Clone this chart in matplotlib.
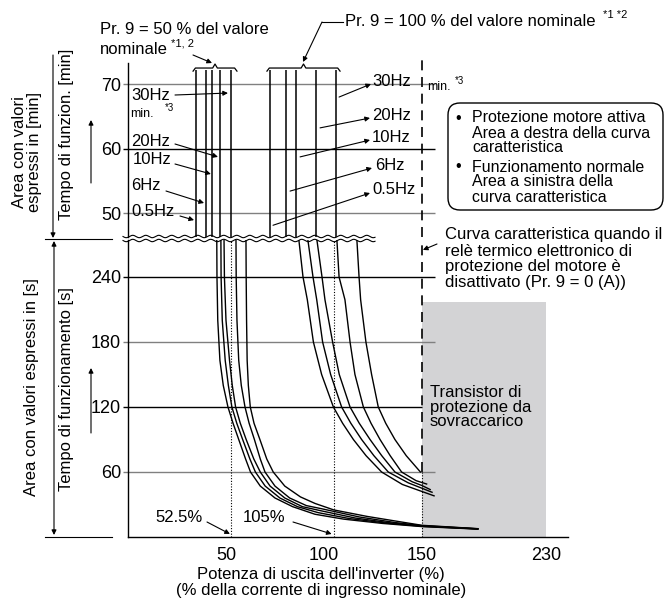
import numpy as np
import matplotlib
matplotlib.use('Agg')
import matplotlib.pyplot as plt
from matplotlib.patches import FancyBboxPatch

plt.rcParams['font.family'] = ['Liberation Sans', 'DejaVu Sans']

# x = output current in %, t = operating time in s (lower) or min (upper)
xticks = [50, 100, 150, 230]
yticks_s = [60, 120, 180, 240]
yticks_min = [50, 60, 70]

# upper area (minutes): vertical lines for 0.5, 6, 10, 20, 30 Hz
hz_labels = ['0.5Hz', '6Hz', '10Hz', '20Hz', '30Hz']
upper_50 = [34.7, 39.8, 42.9, 46.9, 52.6]
upper_100 = [72.4, 80.6, 85.7, 95.9, 106.1]

# lower area (seconds), Pr.9 = 50 %
x50_05 = [45.3, 45.4, 45.8, 46.9, 48.6, 51.0, 53.6, 56.5, 60.0, 62.5, 67.5, 75, 84, 95.4, 110, 130, 150, 186]
t50_05 = [274, 240, 200, 163, 140, 120, 105, 90, 72, 60, 47, 36, 28, 21, 16.5, 12.5, 9.6, 7.3]
x50_6 = [47.4, 47.5, 48.1, 49.6, 51.2, 53.0, 55.5, 58.5, 62.2, 65, 70, 77.5, 86.5, 97, 113, 132, 150, 186]
t50_6 = [274, 240, 200, 163, 140, 120, 105, 90, 72, 60, 47, 36, 28, 22.5, 17, 12.8, 9.9, 7.4]
x50_10 = [49.0, 49.2, 50.0, 51.8, 53.2, 54.9, 57.3, 60.3, 64.2, 67.5, 72.5, 80, 89, 99, 116, 134, 150, 186]
t50_10 = [274, 240, 200, 163, 140, 120, 105, 90, 72, 60, 47, 36, 28, 24, 17.5, 13, 10.2, 7.5]
x50_20 = [55.1, 55.2, 55.6, 56.5, 57.8, 59.7, 61.8, 64.5, 67.5, 69.9, 75, 82.5, 91, 99, 118, 136, 150, 186]
t50_20 = [274, 240, 200, 163, 140, 120, 105, 90, 72, 60, 47, 36, 29, 26, 18.5, 13.4, 10.5, 7.6]
x50_30 = [60.2, 60.3, 60.5, 60.8, 61.4, 62.4, 64.3, 67.3, 70.8, 74.1, 80, 88, 95.4, 105, 122, 139, 150, 186]
t50_30 = [274, 240, 200, 163, 140, 120, 105, 90, 72, 60, 47, 37, 31, 25, 19, 14, 10.8, 7.7]

# lower area (seconds), Pr.9 = 100 %
x100_05 = [87.2, 89.3, 91.5, 94.6, 98.8, 104.8, 109.5, 115, 121.5, 129.4, 140, 150, 157.8]
t100_05 = [274, 240, 219, 180, 150, 120, 105, 90, 75, 60, 48.5, 42, 38]
x100_6 = [91.8, 94.4, 96.3, 99.3, 103.4, 109, 113.7, 119.2, 125.5, 132.8, 143, 150, 156.5]
t100_6 = [274, 240, 219, 180, 150, 120, 105, 90, 75, 60, 50, 45, 41.3]
x100_10 = [96.4, 99.0, 100.5, 104.4, 107.8, 113.3, 118, 123.5, 129.5, 136.2, 145, 150, 155.3]
t100_10 = [274, 240, 219, 180, 150, 120, 105, 90, 75, 60, 51, 47.5, 43.8]
x100_20 = [106.6, 107.7, 110.7, 113.3, 115.8, 120.1, 124, 128.6, 133.8, 139.6, 147, 153]
t100_20 = [274, 240, 219, 180, 150, 120, 105, 90, 75, 60, 52, 48.9]
x100_30 = [116.8, 117.9, 118.7, 121.4, 124.3, 127.7, 131.5, 136.2, 142, 149.2]
t100_30 = [274, 240, 219, 180, 150, 120, 105, 90, 75, 60]

W, H = 669, 599
fig = plt.figure(figsize=(W / 100, H / 100), dpi=100)


def fx(px):
    return px / W


def fy(py):
    return 1 - py / H


# x axis is compressed beyond 150 %
K = 0.791


def fwd(x):
    x = np.asarray(x, dtype=float)
    return np.where(x <= 150, x, 150 + (x - 150) * K)


def inv(y):
    y = np.asarray(y, dtype=float)
    return np.where(y <= 150, y, 150 + (y - 150) / K)


ax_bot = fig.add_axes([fx(128), fy(537), fx(568) - fx(128), fy(240) - fy(537)])
ax_top = fig.add_axes([fx(128), fy(237), fx(568) - fx(128), fy(63) - fy(237)])
ax_ann = fig.add_axes([0, 0, 1, 1], zorder=5)
ax_ann.set_xlim(0, W)
ax_ann.set_ylim(H, 0)
ax_ann.axis('off')
ax_ann.patch.set_visible(False)

for ax in (ax_bot, ax_top):
    ax.set_xscale('function', functions=(fwd, inv))
    ax.set_xlim(0, 244.2)
    ax.patch.set_visible(False)
    for s in ('top', 'right'):
        ax.spines[s].set_visible(False)
    ax.spines['left'].set_linewidth(1)
    ax.tick_params(axis='y', length=0, pad=5, labelsize=13)

ax_bot.set_ylim(0, 274.15)
ax_top.set_ylim(46.28, 73.26)
ax_top.spines['bottom'].set_visible(False)
ax_top.set_xticks([])
ax_bot.spines['bottom'].set_linewidth(1)
ax_bot.set_xticks(xticks)
ax_bot.set_xticklabels([str(v) for v in xticks])
ax_bot.tick_params(axis='x', length=0, pad=7, labelsize=13)
ax_bot.set_yticks(yticks_s)
ax_top.set_yticks(yticks_min)

gray = '#808080'
# grid lines
for v, c in zip(yticks_min, [gray, 'k', gray]):
    ax_top.hlines(v, -2.6, 158.4, color=c, lw=1, clip_on=False)
for v, c, xe in zip(yticks_s, [gray, 'k', gray, 'k'], [158.4, 150, 158.4, 158.4]):
    ax_bot.hlines(v, -2.6, xe, color=c, lw=1, clip_on=False, zorder=2)

# overload protection area
ax_bot.fill_between([150, 230], 0, 217, color='#d3d3d5', lw=0, zorder=0)
ax_bot.text(155.2, 140, 'Transistor di\nprotezione da\nsovraccarico', fontsize=12,
            va='top', ha='left', linespacing=0.95)

# dashed / dotted reference lines
dash = (0, (6, 4))
ax_bot.vlines(150, 60, 274.15, colors='k', lw=1.2, linestyles=dash)
ax_top.vlines(150, 46.28, 73.7, colors='k', lw=1.2, linestyles=dash, clip_on=False)
ax_bot.vlines(150, 0, 60, colors='k', lw=0.8, linestyles=(0, (1, 1.5)))
ax_bot.vlines([52.5, 105], 0, 274.15, colors='k', lw=0.8, linestyles=(0, (1, 1.5)))

# curves
for xs, ts in [(x50_05, t50_05), (x50_6, t50_6), (x50_10, t50_10), (x50_20, t50_20), (x50_30, t50_30),
               (x100_05, t100_05), (x100_6, t100_6), (x100_10, t100_10), (x100_20, t100_20),
               (x100_30, t100_30)]:
    ax_bot.plot(xs, ts, color='k', lw=1.0, zorder=3)

ax_top.vlines(upper_50 + upper_100, 46.28, 72.2, colors='k', lw=1.1)


# braces above the two groups
def brace(ax, x1, x2):
    mid = (x1 + x2) / 2
    bx = [x1, x1 + 1.2, mid - 1.2, mid, mid + 1.2, x2 - 1.2, x2]
    by = [72.0, 72.48, 72.48, 73.1, 72.48, 72.48, 72.0]
    ax.plot(bx, by, color='k', lw=0.9, clip_on=False)


brace(ax_top, 33.2, 55.6)
brace(ax_top, 70.9, 108.2)

ap = dict(arrowstyle='-|>', color='k', lw=0.8, mutation_scale=7, shrinkA=0, shrinkB=0)
fs = 12

# Hz labels, left group
left_txt = [(131, 211), (131, 185), (133, 159), (131, 141), (131, 95)]
left_start = [(180, 216), (166, 191), (175, 164), (175, 144), (175, 95)]
left_tgt = [(33.7, 48.9), (38.8, 51.55), (42.3, 56.05), (45.9, 58.7), (51.0, 68.6)]
for lab, (tx, ty), st, tg in zip(hz_labels, left_txt, left_start, left_tgt):
    ax_ann.text(tx, ty, lab, fontsize=fs, va='center', ha='left')
    ax_top.annotate('', xy=tg, xytext=st, textcoords=ax_ann.transData, arrowprops=ap)
ax_ann.text(130, 114, 'min.', fontsize=9, va='center', ha='left')
ax_ann.text(165, 108, '*3', fontsize=7, va='center', ha='left')

# Hz labels, right group
right_txt = [(372, 190), (375, 166), (372, 137), (372, 115), (372, 82)]
right_start = [(370, 193), (372, 168), (370, 140), (370, 118), (371, 84)]
right_tgt = [(74.0, 48.1), (82.7, 53.4), (87.8, 58.7), (98.0, 63.2), (107.7, 67.98)]
for lab, (tx, ty), st, tg in zip(hz_labels, right_txt, right_start, right_tgt):
    ax_ann.text(tx, ty, lab, fontsize=fs, va='center', ha='left')
    ax_top.annotate('', xy=tg, xytext=st, textcoords=ax_ann.transData,
                    arrowprops=dict(ap, arrowstyle='<|-'))
ax_ann.text(427, 87, 'min.', fontsize=9, va='center', ha='left')
ax_ann.text(455, 81, '*3', fontsize=7, va='center', ha='left')

# titles of groups
ax_ann.text(100, 30, 'Pr. 9 = 50 % del valore', fontsize=fs, va='center', ha='left')
ax_ann.text(100, 50, 'nominale', fontsize=fs, va='center', ha='left')
ax_ann.text(171, 43, '*1, 2', fontsize=8, va='center', ha='left')
ax_ann.annotate('', xy=(212, 63), xytext=(193, 55), arrowprops=ap)
ax_ann.text(345, 22, 'Pr. 9 = 100 % del valore nominale', fontsize=fs, va='center', ha='left')
ax_ann.text(603, 15, '*1 *2', fontsize=8, va='center', ha='left')
ax_ann.plot([343, 322], [22, 22], color='k', lw=0.8)
ax_ann.annotate('', xy=(303, 62), xytext=(322, 22), arrowprops=ap)

# info box
box = FancyBboxPatch((448, 103), 215, 107, boxstyle='round,pad=0,rounding_size=12',
                     fc='white', ec='k', lw=1)
ax_ann.add_patch(box)
box_lines = ['Protezione motore attiva', 'Area a destra della curva', 'caratteristica',
             'Funzionamento normale', 'Area a sinistra della', 'curva caratteristica']
box_y = [118, 133, 148, 167, 182, 197]
for i, (s, yy) in enumerate(zip(box_lines, box_y)):
    ax_ann.text(472, yy, s, fontsize=11.5, va='center', ha='left')
    if i in (0, 3):
        ax_ann.text(455, yy, '•', fontsize=11.5, va='center', ha='left')

# characteristic with relay disabled
curva = ['Curva caratteristica quando il', 'relè termico elettronico di',
         'protezione del motore è', 'disattivato (Pr. 9 = 0 (A))']
for s, yy in zip(curva, [235, 251, 267, 283]):
    ax_ann.text(445, yy, s, fontsize=fs, va='center', ha='left')
ax_bot.annotate('', xy=(150.6, 265), xytext=(437, 244), textcoords=ax_ann.transData, arrowprops=ap)

# 52.5 % / 105 %
ax_ann.text(155, 518, '52.5%', fontsize=fs, va='center', ha='left')
ax_ann.text(243, 518, '105%', fontsize=fs, va='center', ha='left')
ax_bot.annotate('', xy=(52.0, 2.8), xytext=(207, 522), textcoords=ax_ann.transData, arrowprops=ap)
ax_bot.annotate('', xy=(103.9, 2.8), xytext=(293, 522), textcoords=ax_ann.transData, arrowprops=ap)

# axis break (wavy lines)
wx = np.linspace(123, 375, 500)
wave = 1.2 * np.sin(2 * np.pi * (wx - 123) / 13)
ax_ann.plot(wx, 236.5 + wave, color='k', lw=0.8)
ax_ann.plot(wx, 240.5 + wave, color='k', lw=0.8)

# x label
ax_ann.text(321, 575, "Potenza di uscita dell'inverter (%)", fontsize=fs, va='center', ha='center')
ax_ann.text(321, 590, '(% della corrente di ingresso nominale)', fontsize=fs, va='center', ha='center')

# left side labels and arrows
ax_ann.text(27, 152, 'Area con valori\nespressi in [min]', fontsize=fs, rotation=90,
            va='center', ha='center', linespacing=1.0)
ax_ann.text(67, 134, 'Tempo di funzion. [min]', fontsize=fs, rotation=90, va='center', ha='center')
ax_ann.text(32, 387, 'Area con valori espressi in [s]', fontsize=fs, rotation=90,
            va='center', ha='center')
ax_ann.text(67, 389, 'Tempo di funzionamento [s]', fontsize=fs, rotation=90, va='center', ha='center')
ax_ann.annotate('', xy=(53, 238), xytext=(53, 55), arrowprops=ap)
ax_ann.annotate('', xy=(54, 535), xytext=(54, 241), arrowprops=dict(ap, arrowstyle='<|-|>'))
ax_ann.plot([45, 112], [239, 239], color='k', lw=0.8)
ax_ann.plot([45, 112], [537, 537], color='k', lw=0.8)
ax_ann.annotate('', xy=(91, 120), xytext=(91, 183), arrowprops=ap)
ax_ann.annotate('', xy=(91, 368), xytext=(91, 433), arrowprops=ap)

fig.savefig('out.png', dpi=100)
